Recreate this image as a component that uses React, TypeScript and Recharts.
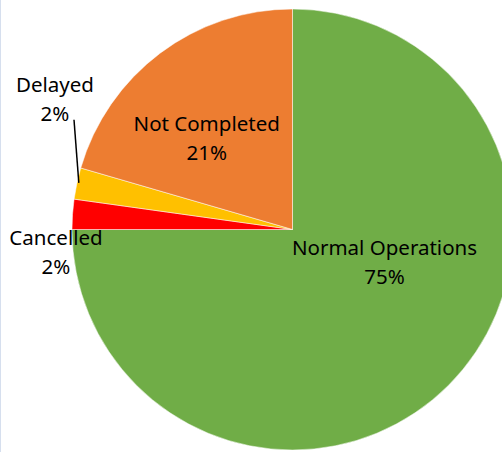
import React from "react";
import { PieChart, Pie, Cell } from "recharts";

const categories = ["Normal Operations", "Cancelled", "Delayed", "Not Completed"];
const values = [75, 2.2, 2.3, 20.5];
const colors = ["#70AD47", "#FF0000", "#FFC000", "#ED7D31"];

// label placement relative to pie centre (first-line baseline), in px
const labelDx = [92, -236.5, -237.5, -85.8];
const labelDy = [25.5, 15.5, -137.8, -98.8];
const LINE_GAP = 29;

const data = categories.map((name, i) => ({ name, value: values[i] }));

const renderLabel = (props: any) => {
  const { cx, cy, index, percent, midAngle, outerRadius } = props;
  const x = cx + labelDx[index];
  const y = cy + labelDy[index];
  const pct = Math.round(percent * 100 + 1e-9) + "%";
  const RAD = Math.PI / 180;
  let leader: React.ReactNode = null;
  if (categories[index] === "Delayed") {
    const ex = cx + (outerRadius - 2) * Math.cos(-midAngle * RAD);
    const ey = cy + (outerRadius - 2) * Math.sin(-midAngle * RAD) - 1;
    leader = <line x1={x + 19} y1={y + 28} x2={ex} y2={ey} stroke="#000" strokeWidth={1.5} />;
  }
  return (
    <g key={"lbl" + index}>
      {leader}
      <text
        x={x}
        y={y}
        textAnchor="middle"
        fill="#000"
        fontFamily="'Noto Sans', sans-serif"
        fontSize={20.5}
      >
        <tspan x={x} y={y}>{categories[index]}</tspan>
        <tspan x={x} y={y + LINE_GAP}>{pct}</tspan>
      </text>
    </g>
  );
};

export default function App() {
  return (
    <div
      style={{
        position: "absolute",
        left: 0,
        top: 0,
        width: 502,
        height: 452,
        background: "#fff",
        borderLeft: "1px solid #d6dfee",
        boxSizing: "border-box",
        overflow: "hidden",
      }}
    >
      <PieChart width={501} height={452} margin={{ top: 0, right: 0, bottom: 0, left: 0 }}>
        <Pie
          data={data}
          dataKey="value"
          nameKey="name"
          cx={291.5}
          cy={229.5}
          outerRadius={220.5}
          startAngle={90}
          endAngle={-270}
          stroke="#fff"
          strokeWidth={0.5}
          label={renderLabel}
          labelLine={false}
          isAnimationActive={false}
        >
          {data.map((d, i) => (
            <Cell key={d.name} fill={colors[i]} />
          ))}
        </Pie>
      </PieChart>
    </div>
  );
}
